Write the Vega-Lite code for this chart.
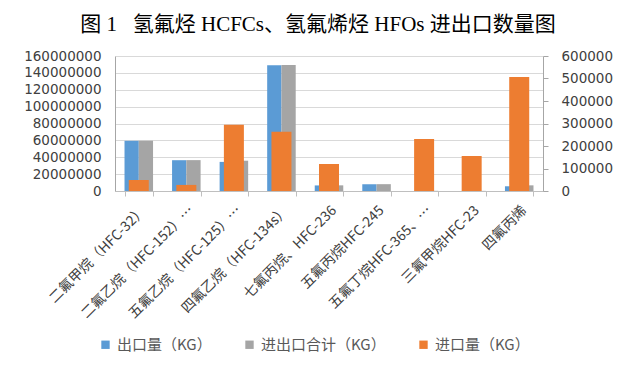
{
  "$schema": "https://vega.github.io/schema/vega-lite/v6.json",
  "autosize": {"type": "none"},
  "padding": {"left": 115, "top": 56, "right": 92, "bottom": 190},
  "width": 428,
  "height": 135,
  "background": "white",
  "title": {
    "text": "图 1\u00a0\u00a0\u00a0氢氟烃 HCFCs、氢氟烯烃 HFOs 进出口数量图",
    "anchor": "middle",
    "dx": -11,
    "offset": 14,
    "fontSize": 21,
    "fontWeight": "normal",
    "font": "Liberation Serif, Noto Sans CJK SC",
    "color": "#000000"
  },
  "data": {
    "values": [
      {"cat": "二氟甲烷（HFC-32）", "series": "出口量（KG）", "value": 59500000},
      {"cat": "二氟甲烷（HFC-32）", "series": "进出口合计（KG）", "value": 59600000},
      {"cat": "二氟甲烷（HFC-32）", "series": "进口量（KG）", "value": 49000},
      {"cat": "二氟乙烷（HFC-152）…", "series": "出口量（KG）", "value": 36500000},
      {"cat": "二氟乙烷（HFC-152）…", "series": "进出口合计（KG）", "value": 36600000},
      {"cat": "二氟乙烷（HFC-152）…", "series": "进口量（KG）", "value": 27000},
      {"cat": "五氟乙烷（HFC-125）…", "series": "出口量（KG）", "value": 34500000},
      {"cat": "五氟乙烷（HFC-125）…", "series": "进出口合计（KG）", "value": 35900000},
      {"cat": "五氟乙烷（HFC-125）…", "series": "进口量（KG）", "value": 295000},
      {"cat": "四氟乙烷（HFC-134s）", "series": "出口量（KG）", "value": 149000000},
      {"cat": "四氟乙烷（HFC-134s）", "series": "进出口合计（KG）", "value": 149200000},
      {"cat": "四氟乙烷（HFC-134s）", "series": "进口量（KG）", "value": 263000},
      {"cat": "七氟丙烷、HFC-236", "series": "出口量（KG）", "value": 6600000},
      {"cat": "七氟丙烷、HFC-236", "series": "进出口合计（KG）", "value": 6700000},
      {"cat": "七氟丙烷、HFC-236", "series": "进口量（KG）", "value": 120000},
      {"cat": "五氟丙烷HFC-245", "series": "出口量（KG）", "value": 8100000},
      {"cat": "五氟丙烷HFC-245", "series": "进出口合计（KG）", "value": 8100000},
      {"cat": "五氟丙烷HFC-245", "series": "进口量（KG）", "value": 0},
      {"cat": "五氟丁烷HFC-365、…", "series": "出口量（KG）", "value": 0},
      {"cat": "五氟丁烷HFC-365、…", "series": "进出口合计（KG）", "value": 230000},
      {"cat": "五氟丁烷HFC-365、…", "series": "进口量（KG）", "value": 231000},
      {"cat": "三氟甲烷HFC-23", "series": "出口量（KG）", "value": 0},
      {"cat": "三氟甲烷HFC-23", "series": "进出口合计（KG）", "value": 155000},
      {"cat": "三氟甲烷HFC-23", "series": "进口量（KG）", "value": 155500},
      {"cat": "四氟丙烯", "series": "出口量（KG）", "value": 5600000},
      {"cat": "四氟丙烯", "series": "进出口合计（KG）", "value": 6700000},
      {"cat": "四氟丙烯", "series": "进口量（KG）", "value": 507000}
    ]
  },
  "encoding": {
    "x": {
      "field": "cat",
      "type": "nominal",
      "sort": null,
      "title": null,
      "scale": {"paddingInner": 0.4, "paddingOuter": 0.2},
      "axis": {
        "labelAngle": -45,
        "labelFontSize": 14,
        "labelColor": "#404040",
        "labelFont": "Noto Sans CJK SC",
        "labelPadding": 7,
        "labelLimit": 250,
        "tickBand": "extent",
        "tickSize": 5,
        "tickColor": "#bfbfbf",
        "domainColor": "#bfbfbf",
        "grid": false
      }
    },
    "color": {
      "field": "series",
      "type": "nominal",
      "scale": {
        "domain": ["出口量（KG）", "进出口合计（KG）", "进口量（KG）"],
        "range": ["#5B9BD5", "#A5A5A5", "#ED7D31"]
      },
      "legend": {
        "orient": "none",
        "legendX": -17,
        "legendY": 281,
        "direction": "horizontal",
        "title": null,
        "symbolType": "square",
        "symbolSize": 70,
        "symbolStrokeWidth": 0,
        "labelFontSize": 15,
        "labelColor": "#595959",
        "labelFont": "Noto Sans CJK SC",
        "columnPadding": 30
      }
    }
  },
  "layer": [
    {
      "transform": [{"filter": "datum.series !== '进口量（KG）'"}],
      "mark": {"type": "bar"},
      "encoding": {
        "xOffset": {
          "field": "series",
          "type": "nominal",
          "scale": {"domain": ["出口量（KG）", "进出口合计（KG）"], "paddingInner": 0}
        },
        "y": {
          "field": "value",
          "type": "quantitative",
          "title": null,
          "scale": {"domain": [0, 160000000], "nice": false},
          "axis": {
            "values": [0, 20000000, 40000000, 60000000, 80000000, 100000000, 120000000, 140000000, 160000000],
            "format": "d",
            "labelFontSize": 13.5,
            "labelColor": "#404040",
            "labelFont": "DejaVu Sans",
            "labelPadding": 14,
            "ticks": false,
            "domainColor": "#a6a6a6",
            "gridColor": "#d9d9d9"
          }
        }
      }
    },
    {
      "transform": [{"filter": "datum.series === '进口量（KG）'"}],
      "mark": {"type": "bar", "size": 20},
      "encoding": {
        "y": {
          "field": "value",
          "type": "quantitative",
          "title": null,
          "scale": {"domain": [0, 600000], "nice": false},
          "axis": {
            "orient": "right",
            "values": [0, 100000, 200000, 300000, 400000, 500000, 600000],
            "format": "d",
            "grid": false,
            "labelFontSize": 13.5,
            "labelColor": "#404040",
            "labelFont": "DejaVu Sans",
            "labelPadding": 13,
            "tickSize": 5,
            "tickColor": "#a6a6a6",
            "domainColor": "#a6a6a6"
          }
        }
      }
    }
  ],
  "resolve": {"scale": {"y": "independent"}},
  "config": {"view": {"stroke": null}}
}
